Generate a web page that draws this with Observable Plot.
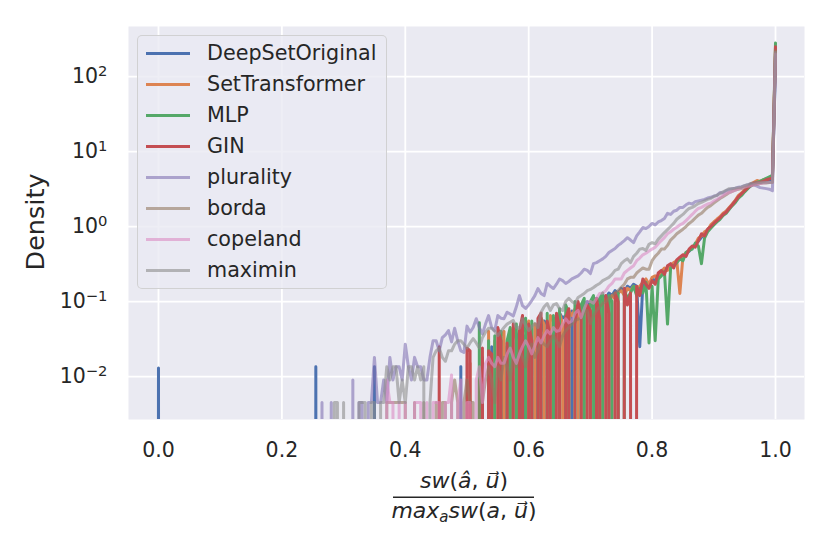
<!DOCTYPE html>
<html><head><meta charset="utf-8">
<script src="https://cdn.jsdelivr.net/npm/d3@7"></script>
<script src="https://cdn.jsdelivr.net/npm/@observablehq/plot@0.6"></script>
<style>
body{margin:0;background:#fff;font-family:"DejaVu Sans",sans-serif;}
#wrap{position:relative;width:830px;height:554px;}
#legend{position:absolute;left:137px;top:35px;width:250px;height:254px;box-sizing:border-box;background:rgba(234,234,242,0.8);border:1.4px solid rgba(204,204,204,0.85);border-radius:5px;}
.sw{position:absolute;left:8px;width:44px;height:0;border-top:3px solid;}
.lab{position:absolute;left:69px;font-size:20.7px;line-height:24px;color:#262626;white-space:nowrap;}
</style></head>
<body><div id="wrap"></div>
<script>
// histogram bins: first bin at binStart, width binWidth
const binStart = 0.25, binWidth = 0.005;
const xTicks = [0, 0.2, 0.4, 0.6, 0.8, 1.0];
const yTicks = [0.01, 0.1, 1, 10, 100];

// DeepSetOriginal: isolated bins near 0 (bins at -0.005, 0, 0.005)
const deepSetOriginalNearZero = [0, 0.013, 0];
const deepSetOriginal = [
 0,0.0135,0,0,0,0,0,0,0,0,
 0,0,0,0,0,0,0,0,0,0,
 0.0135,0,0,0,0,0,0,0,0,0,
 0,0,0,0,0,0,0,0,0,0,
 0,0,0,0,0,0,0,0,0.0135,0,
 0,0,0,0,0,0.018,0,0,0.025,0,
 0,0.03,0,0.025,0.035,0,0.03,0.04,0,0.035,
 0.04,0.045,0,0.05,0.04,0.055,0.05,0,0.06,0.055,
 0.07,0.06,0.065,0,0.075,0.07,0.085,0.08,0.09,0.1,
 0.085,0.1,0.11,0.1,0.12,0.11,0.13,0.12,0.14,0.13,
 0.15,0.13,0.16,0.15,0.17,0.16,0.025,0.17,0.19,0.16,
 0.2,0.19,0.22,0.24,0.26,0.28,0.3,0.31,0.34,0.37,
 0.4,0.43,0.47,0.52,0.57,0.64,0.72,0.8,0.9,1.0,
 1.1,1.2,1.3,1.45,1.6,1.75,1.95,2.2,2.45,2.7,
 3.0,3.25,3.5,3.7,3.8,3.9,4.0,4.1,4.2,4.3,140];
const setTransformer = [
 0,0,0,0,0,0,0,0,0,0,
 0,0,0,0,0,0,0,0,0,0,
 0,0,0,0,0,0,0,0,0,0,
 0,0,0,0,0,0,0,0,0,0,
 0,0,0,0,0,0,0,0,0,0,
 0,0.015,0,0,0,0,0,0.04,0,0.03,
 0,0.035,0.04,0,0.035,0.045,0.03,0,0.05,0.04,
 0.055,0,0.05,0.045,0.06,0.05,0,0.065,0.055,0.06,
 0.07,0.05,0,0.075,0.065,0.08,0.07,0,0.085,0.075,
 0.09,0.1,0.08,0,0.1,0.11,0.095,0.12,0.11,0.13,
 0.14,0.12,0.15,0.14,0.16,0.15,0.16,0.18,0.2,0.17,
 0.21,0.22,0.2,0.25,0.28,0.26,0.3,0.33,0.35,0.128,
 0.4,0.45,0.48,0.52,0.58,0.7,0.75,0.85,0.9,1.05,
 1.15,1.25,1.35,1.5,1.6,1.8,2.0,2.25,2.6,2.8,
 3.1,3.4,3.7,3.9,4.1,4.0,4.2,4.3,4.4,4.5,250];
const mlp = [
 0,0,0,0,0,0,0,0,0,0,
 0,0,0,0,0,0,0,0,0,0,
 0,0,0,0,0,0,0,0,0,0,
 0,0,0,0,0,0,0,0,0,0,
 0,0,0,0,0,0,0,0,0,0,
 0,0,0,0,0.052,0,0,0.03,0,0.035,
 0,0.04,0,0.03,0.045,0,0.05,0,0.04,0.06,
 0,0.055,0,0.045,0.06,0,0.07,0,0.065,0,
 0.08,0,0.09,0.07,0,0.1,0,0.09,0.11,0,
 0.1,0.12,0,0.11,0.13,0,0.12,0.1,0,0.13,
 0,0.14,0.11,0.13,0.16,0.12,0.15,0.13,0.18,0.028,
 0.16,0.03,0.2,0.22,0.25,0.05,0.28,0.3,0.33,0.37,
 0.35,0.45,0.48,0.5,0.6,0.55,0.32,0.7,0.85,0.95,
 1.05,1.15,1.25,1.4,1.5,1.7,1.9,2.1,2.4,2.6,
 2.9,3.2,3.5,3.7,3.9,4.0,4.2,4.4,4.6,4.8,280];
const gin = [
 0,0,0,0,0,0,0,0,0,0,
 0,0,0,0,0,0,0,0,0,0,
 0,0,0,0,0,0,0,0,0,0,
 0,0,0,0,0,0,0,0,0,0,
 0,0.025,0,0,0,0,0,0,0,0,
 0.024,0.022,0,0,0,0.024,0,0.022,0.02,0,
 0.045,0.03,0,0.028,0,0.05,0,0.04,0.065,0,
 0.05,0.03,0,0.06,0.07,0,0.055,0.035,0,0.07,
 0.045,0,0.06,0.08,0,0.05,0.1,0.06,0,0.09,
 0.075,0,0.11,0.06,0,0.12,0.07,0,0.13,0.1,
 0,0.15,0.09,0.13,0,0.16,0.12,0.2,0.17,0.15,
 0.19,0.17,0.24,0.26,0.23,0.3,0.32,0.28,0.36,0.39,
 0.42,0.4,0.5,0.55,0.53,0.65,0.8,0.75,0.92,1.0,
 1.1,1.2,1.3,1.45,1.55,1.75,1.95,2.2,2.5,2.75,
 3.0,3.3,3.6,3.8,3.85,3.9,4.0,4.2,4.3,4.5,250];
const plurality = [
 0,0,0,0.0045,0,0,0.0045,0,0,0,
 0,0,0,0.009,0,0.0045,0.0045,0,0.0045,0.0045,
 0.018,0.0045,0.0045,0.009,0.0045,0.018,0.009,0.0135,0.0135,0.009,
 0.027,0.0135,0.009,0.018,0.0135,0.0135,0.009,0.009,0.018,0.03,
 0.03,0.022,0.033,0.036,0.041,0.029,0.044,0.03,0.022,0.021,
 0.047,0.039,0.045,0.059,0.045,0.037,0.05,0.065,0.045,0.041,
 0.065,0.06,0.059,0.072,0.068,0.064,0.085,0.12,0.088,0.081,
 0.09,0.103,0.12,0.149,0.128,0.12,0.174,0.16,0.149,0.17,
 0.2,0.19,0.174,0.185,0.2,0.21,0.22,0.24,0.27,0.26,
 0.236,0.32,0.33,0.35,0.37,0.4,0.45,0.48,0.51,0.56,
 0.6,0.65,0.71,0.66,0.61,0.75,0.85,0.97,0.94,1.0,
 1.1,1.05,1.15,1.2,1.28,1.5,1.45,1.6,1.65,1.8,
 1.8,1.95,2.05,2.0,2.15,2.2,2.25,2.3,2.4,2.45,
 2.55,2.6,2.84,2.8,3.0,3.1,3.2,3.25,3.35,3.4,
 3.5,3.6,3.74,3.6,3.45,3.3,3.25,3.2,3.15,3.0,190];
const borda = [
 0,0,0,0,0,0,0,0,0,0,
 0,0,0,0,0,0,0,0,0,0,
 0,0,0,0,0.0045,0.0045,0.0045,0.0045,0.0045,0.0045,
 0.0045,0,0,0.0045,0,0,0.0045,0,0,0,
 0.0045,0,0.0045,0.0045,0,0.0045,0.009,0.0045,0,0.0045,
 0.009,0.0045,0.0045,0,0.009,0.0045,0.009,0.0135,0.009,0.0045,
 0.0135,0.009,0.018,0.0135,0.009,0.018,0.0135,0.022,0.018,0.0135,
 0.022,0.027,0.018,0.022,0.03,0.027,0.025,0.03,0.035,0.03,
 0.025,0.035,0.041,0.045,0.05,0.056,0.058,0.061,0.07,0.076,
 0.051,0.065,0.076,0.085,0.094,0.1,0.11,0.12,0.13,0.14,
 0.155,0.17,0.2,0.21,0.21,0.24,0.26,0.28,0.27,0.27,
 0.35,0.4,0.44,0.5,0.5,0.56,0.66,0.72,0.8,0.86,
 0.92,1.0,1.1,1.18,1.3,1.42,1.5,1.65,1.8,1.9,
 2.05,2.2,2.36,2.5,2.65,2.84,2.95,3.05,3.15,3.2,
 3.3,3.4,3.5,3.6,3.65,3.74,3.8,3.8,3.85,3.9,220];
const copeland = [
 0,0,0,0,0,0,0,0,0,0,
 0,0,0,0,0,0,0,0,0,0,
 0,0,0,0,0.009,0.0045,0.0045,0,0.0045,0,
 0.0045,0,0,0.0045,0.0045,0.0045,0,0.0045,0,0.0045,
 0.0045,0.0045,0,0.0045,0.0045,0.0105,0,0.0045,0.009,0,
 0.0045,0.0045,0,0.009,0.0135,0.0045,0.015,0.018,0.015,0.0135,
 0.018,0.015,0.015,0.02,0.024,0.018,0.015,0.02,0.025,0.03,
 0.025,0.02,0.026,0.033,0.028,0.035,0.041,0.037,0.045,0.04,
 0.041,0.05,0.059,0.052,0.055,0.07,0.076,0.061,0.08,0.1,
 0.1,0.095,0.11,0.128,0.13,0.14,0.16,0.174,0.2,0.2,
 0.2,0.24,0.26,0.28,0.3,0.35,0.38,0.42,0.44,0.47,
 0.5,0.53,0.59,0.65,0.71,0.8,0.85,0.92,0.98,1.05,
 1.1,1.2,1.32,1.45,1.6,1.74,1.8,1.9,2.0,2.05,
 2.2,2.3,2.44,2.6,2.75,2.84,2.95,3.05,3.2,3.25,
 3.35,3.45,3.5,3.6,3.7,3.74,3.8,3.85,3.86,3.9,200];
const maximin = [
 0,0,0,0,0,0,0,0.0045,0.0045,0,
 0.0045,0,0,0,0,0.0045,0.0045,0.0045,0,0.0045,
 0.0045,0,0.0045,0.0045,0.0135,0.009,0.0135,0.0135,0.0045,0.009,
 0.0045,0.0135,0.0135,0.009,0.0135,0.009,0.0135,0,0.0045,0.018,
 0.022,0.024,0.018,0.016,0.022,0.022,0.027,0.03,0.03,0.027,
 0.024,0.028,0.032,0.028,0.024,0.033,0.039,0.044,0.044,0.04,
 0.035,0.04,0.045,0.05,0.053,0.056,0.045,0.044,0.059,0.048,
 0.041,0.046,0.051,0.045,0.072,0.085,0.094,0.076,0.09,0.094,
 0.08,0.076,0.1,0.11,0.1,0.094,0.113,0.12,0.128,0.14,
 0.145,0.154,0.165,0.174,0.19,0.2,0.21,0.23,0.26,0.27,
 0.32,0.35,0.37,0.33,0.4,0.44,0.5,0.51,0.48,0.58,
 0.61,0.59,0.68,0.75,0.83,0.91,1.0,1.1,1.25,1.35,
 1.45,1.6,1.74,1.8,1.9,2.03,2.1,2.2,2.3,2.36,
 2.5,2.6,2.75,2.9,3.05,3.2,3.2,3.25,3.3,3.35,
 3.5,3.6,3.74,3.8,3.85,3.86,3.9,3.9,3.85,3.9,210];

const seriesNames = ["DeepSetOriginal","SetTransformer","MLP","GIN","plurality","borda","copeland","maximin"];
const seriesValues = [deepSetOriginal, setTransformer, mlp, gin, plurality, borda, copeland, maximin];
const seriesColors = ["#4C72B0","#DD8452","#55A868","#C44E52","#8172B3","#937860","#DA8BC3","#8C8C8C"];
const seriesAlpha = [1,1,1,1,0.6,0.6,0.6,0.6];

const FLOOR = 1e-60; // empty bins -> log(0): drawn off the bottom like matplotlib
const series = seriesNames.map((name, k) => {
  const rows = seriesValues[k].map((v, i) => ({seg: 1, x: binStart + i * binWidth, density: v}));
  if (k === 0) deepSetOriginalNearZero.forEach((v, i) => rows.unshift({seg: 0, x: (1 - i) * binWidth, density: deepSetOriginalNearZero[2 - i]}));
  return {name, rows, color: seriesColors[k], alpha: seriesAlpha[k]};
});

const sup = s => s.replace("-", "\u2212");
const chart = Plot.plot({
  width: 830, height: 554,
  marginLeft: 128, marginRight: 26, marginTop: 26, marginBottom: 135,
  style: {fontFamily: "DejaVu Sans", fontSize: "20.5px", color: "#262626", background: "white", overflow: "visible"},
  x: {domain: [-0.0486, 1.047]},
  y: {type: "log", domain: [Math.pow(10, -2.573), Math.pow(10, 2.667)]},
  marks: [
    Plot.frame({fill: "#EAEAF2", stroke: "none"}),
    Plot.gridX(xTicks, {stroke: "white", strokeOpacity: 1, strokeWidth: 1.8}),
    Plot.gridY(yTicks, {stroke: "white", strokeOpacity: 1, strokeWidth: 1.8}),
    ...series.map(s => Plot.line(s.rows, {
      x: "x", y: d => d.density > 0 ? d.density : FLOOR, z: "seg",
      stroke: s.color, strokeOpacity: s.alpha, strokeWidth: 3, clip: true
    })),
    Plot.axisX(xTicks, {tickSize: 0, tickPadding: 23, tickFormat: d3.format(".1f"), label: null, fill: "#262626"}),
    Plot.axisY(yTicks, {tickSize: 0, tickPadding: 21, tickFormat: d => "E" + Math.round(Math.log10(d)), label: null, fill: "#262626"})
  ]
});

// superscript exponents on the y tick labels
d3.select(chart).selectAll('g[aria-label="y-axis tick label"] text').each(function() {
  const t = d3.select(this);
  const e = t.text().slice(1);
  t.text(null);
  t.append("tspan").text("10");
  t.append("tspan").attr("dy", "-0.5em").attr("font-size", "72%").text(sup(e));
});

const svg = d3.select(chart);
// y label
svg.append("text").attr("transform", "translate(44,222) rotate(-90)").attr("text-anchor", "middle")
  .attr("font-size", "25.5px").attr("fill", "#262626").text("Density");
// x label: fraction
const cx = 464;
const num = svg.append("text").attr("x", cx).attr("y", 488).attr("text-anchor", "middle").attr("font-size", "22px").attr("fill", "#262626");
num.append("tspan").attr("font-style", "italic").text("sw");
num.append("tspan").text("(");
num.append("tspan").attr("font-style", "italic").text("\u00e2");
num.append("tspan").text(", ");
num.append("tspan").attr("font-style", "italic").text("u\u20d7");
num.append("tspan").text(")");
svg.append("line").attr("x1", 393).attr("x2", 534).attr("y1", 497.3).attr("y2", 497.3).attr("stroke", "#262626").attr("stroke-width", 1.5);
const den = svg.append("text").attr("x", cx).attr("y", 518).attr("text-anchor", "middle").attr("font-size", "22px").attr("fill", "#262626");
den.append("tspan").attr("font-style", "italic").text("max");
den.append("tspan").attr("font-style", "italic").attr("font-size", "15px").attr("dy", "4").text("a");
den.append("tspan").attr("font-style", "italic").attr("dy", "-4").text("sw");
den.append("tspan").text("(");
den.append("tspan").attr("font-style", "italic").text("a");
den.append("tspan").text(", ");
den.append("tspan").attr("font-style", "italic").text("u\u20d7");
den.append("tspan").text(")");

const wrap = document.getElementById("wrap");
wrap.appendChild(chart);

// legend
const legend = document.createElement("div");
legend.id = "legend";
series.forEach((s, i) => {
  const cy = 17.3 + 31 * i;
  const sw = document.createElement("div");
  sw.className = "sw";
  sw.style.top = (cy - 1.5) + "px";
  sw.style.borderTopColor = s.color;
  sw.style.opacity = s.alpha;
  const lab = document.createElement("div");
  lab.className = "lab";
  lab.style.top = (cy - 12.5) + "px";
  lab.textContent = s.name;
  legend.appendChild(sw);
  legend.appendChild(lab);
});
wrap.appendChild(legend);
</script>
</body></html>
